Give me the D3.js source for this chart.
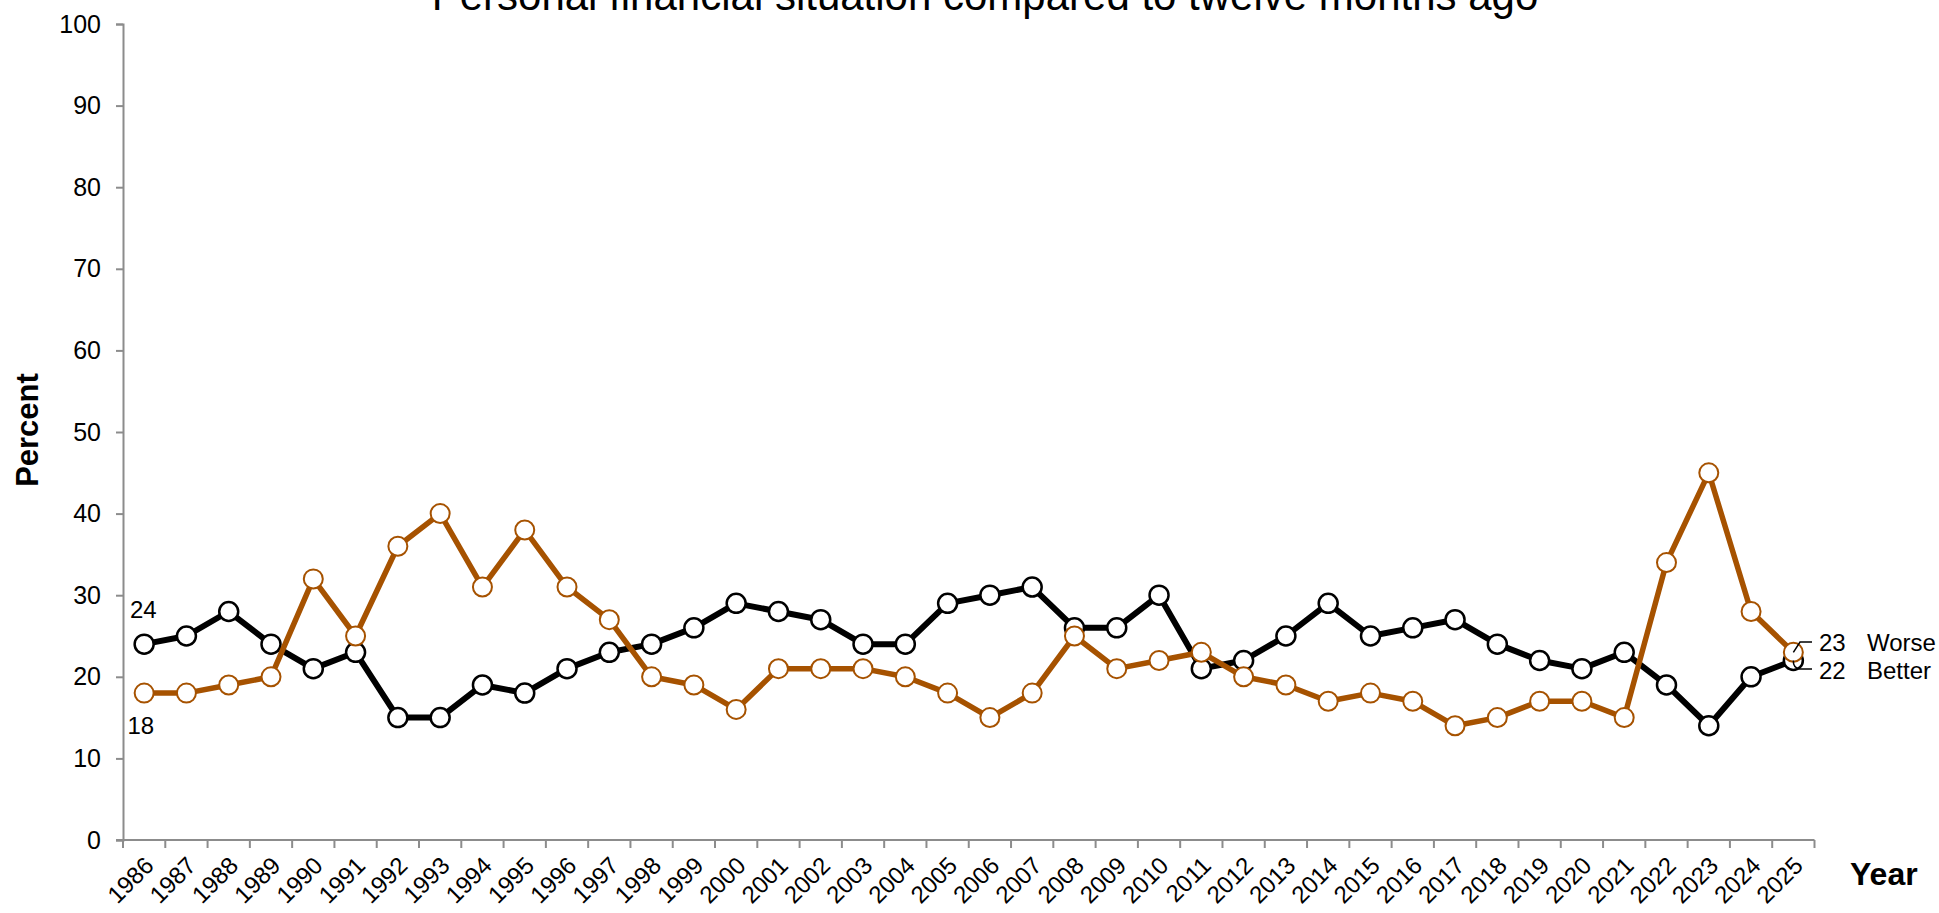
<!DOCTYPE html>
<html>
<head>
<meta charset="utf-8">
<script src="https://cdn.jsdelivr.net/npm/d3@7/dist/d3.min.js"></script>
<style>
  html, body { margin: 0; padding: 0; background: #fff; }
  svg { display: block; font-family: "Liberation Sans", Arial, sans-serif; }
</style>
</head>
<body>
<svg id="chart" width="1939" height="913"></svg>
<script>
const years = d3.range(1986, 2026).map(String);
const better = [24,25,28,24,21,23,15,15,19,18,21,23,24,26,29,28,27,24,24,29,30,31,26,26,30,21,22,25,29,25,26,27,24,22,21,23,19,14,20,22];
const worse  = [18,18,19,20,32,25,36,40,31,38,31,27,20,19,16,21,21,21,20,18,15,18,25,21,22,23,20,19,17,18,17,14,15,17,17,15,34,45,28,23];
const yTicks = [0,10,20,30,40,50,60,70,80,90,100];
const title = "Personal financial situation compared to twelve months ago";
const yTitle = "Percent";
const xTitle = "Year";
const seriesNames = ["Better", "Worse"];

const svg = d3.select("#chart");
const pL = 123, pR = 1814.5, pT = 24, pB = 840;
const axisColor = "#8c8c8c";
const orange = "#A65200";

const x = d3.scaleBand().domain(years).range([pL, pR]).padding(0);
const cx = d => x(d) + x.bandwidth() / 2;
const y = d3.scaleLinear().domain([0, 100]).range([pB, pT]);

// title
svg.append("text").attr("x", 985).attr("y", 10).attr("text-anchor", "middle")
  .attr("font-size", 42).attr("fill", "#000").text(title);

// y axis
const yAxis = svg.append("g").attr("transform", `translate(${pL},0)`)
  .call(d3.axisLeft(y).tickValues(yTicks).tickSize(7).tickPadding(15));
yAxis.select(".domain").attr("stroke", axisColor).attr("stroke-width", 2);
yAxis.selectAll(".tick line").attr("stroke", axisColor).attr("stroke-width", 2);
yAxis.selectAll(".tick text").attr("font-size", 25).attr("fill", "#000")
  .attr("font-family", "Liberation Sans, Arial, sans-serif");

// x axis line
svg.append("line").attr("x1", pL - 7).attr("x2", pR).attr("y1", pB).attr("y2", pB)
  .attr("stroke", axisColor).attr("stroke-width", 2);
// boundary ticks
const bounds = years.map(d => x(d)).concat([x.range()[1]]);
svg.append("g").selectAll("line").data(bounds).join("line")
  .attr("x1", d => d).attr("x2", d => d).attr("y1", pB).attr("y2", pB + 8)
  .attr("stroke", axisColor).attr("stroke-width", 2);
// x labels
const xAxis = svg.append("g").attr("transform", `translate(0,${pB})`)
  .call(d3.axisBottom(x).tickSize(0).tickPadding(0));
xAxis.select(".domain").remove();
xAxis.selectAll(".tick text")
  .attr("font-size", 24).attr("fill", "#000")
  .attr("font-family", "Liberation Sans, Arial, sans-serif")
  .attr("text-anchor", "end")
  .attr("dy", 0)
  .attr("transform", "translate(11,27) rotate(-45)");

// axis titles
svg.append("text").attr("transform", "translate(38,430) rotate(-90)")
  .attr("text-anchor", "middle").attr("font-size", 31).attr("font-weight", "bold").text(yTitle);
svg.append("text").attr("x", 1850).attr("y", 885)
  .attr("font-size", 32).attr("font-weight", "bold").text(xTitle);

// series
const line = d3.line().x((d, i) => cx(years[i])).y(d => y(d));
function drawSeries(vals, color, sw, msw) {
  svg.append("path").datum(vals).attr("d", line).attr("fill", "none")
    .attr("stroke", color).attr("stroke-width", sw).attr("stroke-linejoin", "round");
  svg.append("g").selectAll("circle").data(vals).join("circle")
    .attr("cx", (d, i) => cx(years[i])).attr("cy", d => y(d)).attr("r", 9.5)
    .attr("fill", "#fff").attr("stroke", color).attr("stroke-width", msw);
}
drawSeries(better, "#000", 6, 2.5);
drawSeries(worse, orange, 5.5, 2);

// start labels
svg.append("text").attr("x", 130).attr("y", 618).attr("font-size", 24).text(better[0]);
svg.append("text").attr("x", 127.5).attr("y", 734).attr("font-size", 24).text(worse[0]);

// end labels with leaders
const last = years.length - 1;
const lx = cx(years[last]);
const yW = y(worse[last]), yB = y(better[last]);
svg.append("path").attr("d", `M1812,642 L1800,642 L${lx},${yW}`)
  .attr("fill", "none").attr("stroke", "#000").attr("stroke-width", 1.5);
svg.append("path").attr("d", `M1812,669 L1800,669 Q1793,668 ${lx},${yB}`)
  .attr("fill", "none").attr("stroke", "#000").attr("stroke-width", 1.5);
svg.append("text").attr("x", 1819).attr("y", 651).attr("font-size", 24).text(worse[last]);
svg.append("text").attr("x", 1867).attr("y", 651).attr("font-size", 24).text(seriesNames[1]);
svg.append("text").attr("x", 1819).attr("y", 679).attr("font-size", 24).text(better[last]);
svg.append("text").attr("x", 1867).attr("y", 679).attr("font-size", 24).text(seriesNames[0]);
</script>
</body>
</html>
